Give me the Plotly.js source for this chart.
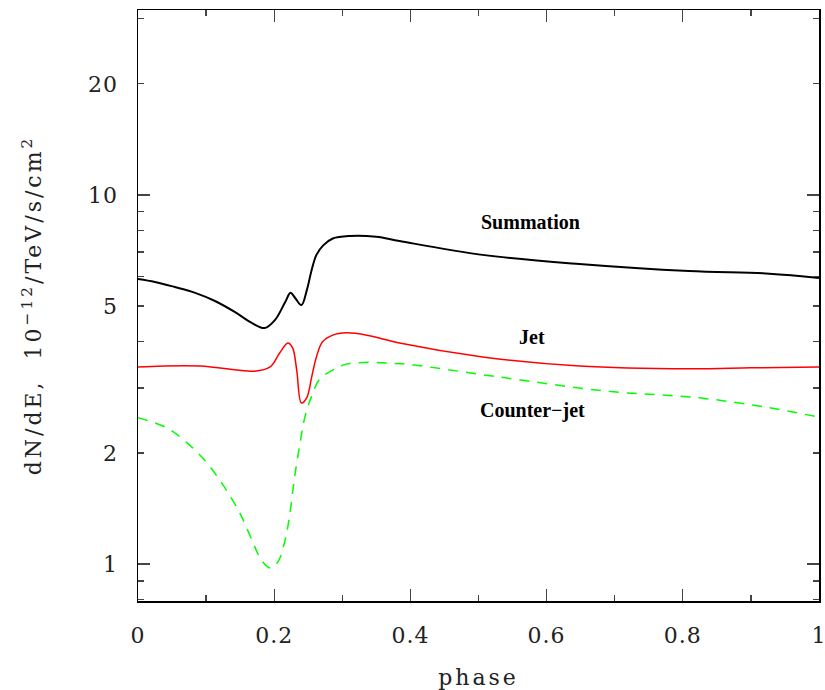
<!DOCTYPE html>
<html>
<head>
<meta charset="utf-8">
<script src="https://cdn.plot.ly/plotly-3.0.1.min.js"></script>
<style>
html,body{margin:0;padding:0;background:#fff;}
#chart{width:825px;height:690px;}
.xtitle, .ytitle { letter-spacing: 3px; }
.xtick text, .ytick text { letter-spacing: 1px; }
</style>
</head>
<body>
<div id="chart"></div>
<script>
// Summation (black)
const sumPhase = [0, 0.025, 0.054, 0.084, 0.113, 0.142, 0.167, 0.186, 0.201, 0.216, 0.224, 0.231, 0.240, 0.248, 0.255, 0.262, 0.272, 0.286, 0.311, 0.350, 0.384, 0.506, 0.648, 0.809, 0.927, 1.0];
const sumFlux  = [5.92, 5.81, 5.63, 5.43, 5.16, 4.82, 4.50, 4.36, 4.58, 5.12, 5.43, 5.25, 5.03, 5.53, 6.26, 6.88, 7.30, 7.62, 7.74, 7.70, 7.50, 6.88, 6.50, 6.22, 6.12, 5.96];
// Jet (red)
const jetPhase = [0, 0.091, 0.171, 0.194, 0.208, 0.220, 0.227, 0.233, 0.240, 0.248, 0.255, 0.262, 0.271, 0.286, 0.306, 0.336, 0.384, 0.506, 0.648, 0.809, 0.9, 1.0];
const jetFlux  = [3.42, 3.44, 3.33, 3.42, 3.73, 3.97, 3.85, 3.36, 2.73, 2.83, 3.21, 3.64, 4.00, 4.17, 4.23, 4.17, 3.97, 3.64, 3.44, 3.38, 3.40, 3.42];
// Counter-jet (green dashed)
const cjPhase = [0, 0.042, 0.072, 0.098, 0.117, 0.135, 0.150, 0.164, 0.182, 0.194, 0.205, 0.216, 0.223, 0.230, 0.238, 0.245, 0.255, 0.267, 0.292, 0.306, 0.340, 0.37, 0.394, 0.531, 0.688, 0.824, 0.922, 1.0];
const cjFlux  = [2.49, 2.34, 2.13, 1.91, 1.72, 1.53, 1.37, 1.20, 1.02, 0.975, 1.01, 1.16, 1.37, 1.72, 2.13, 2.50, 2.85, 3.17, 3.40, 3.48, 3.52, 3.50, 3.48, 3.21, 2.94, 2.82, 2.66, 2.50];

const yTickVals = [1, 2, 5, 10, 20];
const yTickText = ['1', '2', '5', '10', '20'];
const yMinorVals = [0.8, 0.9, 3, 4, 6, 7, 8, 9, 30];
const yLongTicks = [1, 10];

const curveLabels = ['Summation', 'Jet', 'Counter\u2212jet'];
const labelX = [0.576, 0.579, 0.579];
const labelY = [8.45, 4.12, 2.60];

const yRange = [Math.log10(0.794), Math.log10(31.7)];
const tickFont = {family: 'DejaVu Serif', size: 22, color: '#222'};
const titleFont = {family: 'DejaVu Serif', size: 22, color: '#222'};

const traces = [
  {x: sumPhase, y: sumFlux, mode: 'lines', line: {color: '#000000', width: 2, shape: 'spline', smoothing: 1}, name: 'Summation'},
  {x: jetPhase, y: jetFlux, mode: 'lines', line: {color: '#ff0000', width: 1.5, shape: 'spline', smoothing: 1}, name: 'Jet'},
  {x: cjPhase, y: cjFlux, mode: 'lines', line: {color: '#00ff00', width: 1.5, dash: '10px,8px', shape: 'spline', smoothing: 1}, name: 'Counter-jet'},
  {x: [0.5], y: [1], yaxis: 'y2', mode: 'markers', marker: {opacity: 0}, hoverinfo: 'skip', showlegend: false}
];

const layout = {
  width: 825, height: 690,
  margin: {l: 138, r: 6, t: 10, b: 89},
  paper_bgcolor: '#ffffff', plot_bgcolor: '#ffffff',
  showlegend: false,
  xaxis: {
    range: [0, 1], dtick: 0.2, tick0: 0,
    ticks: 'inside', ticklen: 12, tickwidth: 1.3, tickcolor: '#444',
    minor: {dtick: 0.1, ticks: 'inside', ticklen: 6, tickwidth: 1.3, tickcolor: '#444'},
    showline: true, linecolor: '#000', linewidth: 1.5, mirror: 'ticks',
    showgrid: false, zeroline: false,
    tickfont: tickFont, ticklabelstandoff: 14, ticklabeloverflow: 'allow',
    title: {text: 'phase', font: titleFont, standoff: 22}
  },
  yaxis: {
    type: 'log', range: yRange,
    tickvals: yTickVals, ticktext: yTickText,
    ticks: 'inside', ticklen: 6, tickwidth: 1.3, tickcolor: '#444',
    minor: {tickvals: yMinorVals, ticks: 'inside', ticklen: 6, tickwidth: 1.3, tickcolor: '#444', showgrid: false},
    showline: true, linecolor: '#000', linewidth: 1.5, mirror: 'ticks',
    showgrid: false, zeroline: false,
    tickfont: tickFont, ticklabelstandoff: 14,
    title: {text: 'dN/dE,  10<sup>\u221212</sup>/TeV/s/cm<sup>2</sup>', font: titleFont, standoff: 40}
  },
  yaxis2: {
    type: 'log', range: yRange, overlaying: 'y', side: 'left',
    tickvals: yLongTicks, showticklabels: false,
    ticks: 'inside', ticklen: 12, tickwidth: 1.3, tickcolor: '#444',
    showline: false, mirror: 'ticks', showgrid: false, zeroline: false
  },
  annotations: curveLabels.map((t, i) => ({
    text: t, x: labelX[i], y: Math.log10(labelY[i]), xref: 'x', yref: 'y',
    showarrow: false, font: {family: 'Liberation Serif', size: 20, color: '#000', weight: 'bold'}
  }))
};

Plotly.newPlot('chart', traces, layout, {displayModeBar: false, staticPlot: true});
</script>
</body>
</html>
